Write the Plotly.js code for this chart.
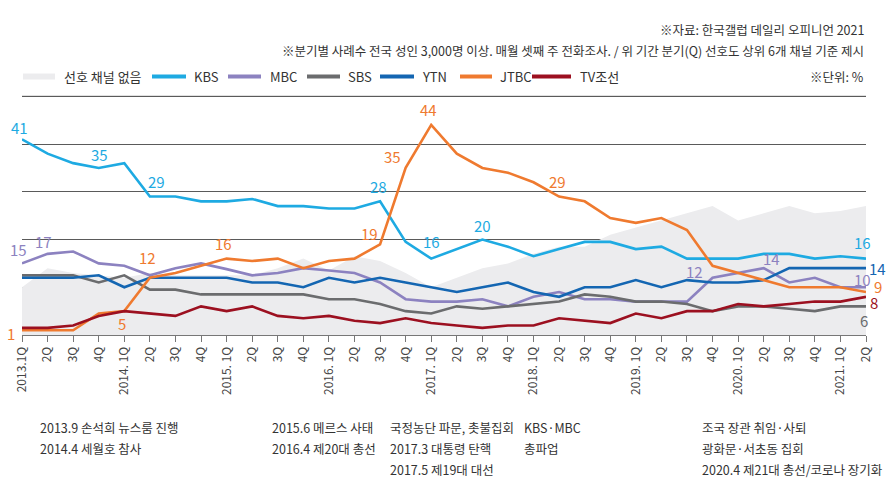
<!DOCTYPE html>
<html>
<head>
<meta charset="utf-8">
<script src="https://cdn.plot.ly/plotly-3.0.1.min.js"></script>
<style>
  html, body { margin: 0; padding: 0; background: #fff; }
  #chart { width: 895px; height: 487px; }
</style>
</head>
<body>
<div id="chart"></div>
<script>
// quarterly channel preference (%), 2013.1Q - 2021.2Q
var quarters = ["2013.1Q","2013.2Q","2013.3Q","2013.4Q","2014.1Q","2014.2Q","2014.3Q","2014.4Q",
  "2015.1Q","2015.2Q","2015.3Q","2015.4Q","2016.1Q","2016.2Q","2016.3Q","2016.4Q",
  "2017.1Q","2017.2Q","2017.3Q","2017.4Q","2018.1Q","2018.2Q","2018.3Q","2018.4Q",
  "2019.1Q","2019.2Q","2019.3Q","2019.4Q","2020.1Q","2020.2Q","2020.3Q","2020.4Q",
  "2021.1Q","2021.2Q"];
var tickLabels = ["2013.1Q","2Q","3Q","4Q","2014. 1Q","2Q","3Q","4Q",
  "2015. 1Q","2Q","3Q","4Q","2016. 1Q","2Q","3Q","4Q",
  "2017. 1Q","2Q","3Q","4Q","2018. 1Q","2Q","3Q","4Q",
  "2019. 1Q","2Q","3Q","4Q","2020. 1Q","2Q","3Q","4Q",
  "2021. 1Q","2Q"];
var gridValues = [10, 20, 30, 40, 50];

var noPref = [10,14,13,12.5,12,13,12.5,12.5,12.5,12.5,14,16,13.5,16.5,15.5,13,10,12,14,15,17,18.5,18.5,21,22.5,24,25.5,27,24,25.5,27,25.5,26,27];
var kbs  = [41,38,36,35,36,29,29,28,28,28.5,27,27,26.5,26.5,28,19.5,16,18,20,18.5,16.5,18,19.5,19.5,18,18.5,16,16,16,17,17,16,16.5,16];
var mbc  = [15,17,17.5,15,14.5,12.5,14,15,13.8,12.5,13,14,13.5,13,11,7.5,7,7,7.5,6,8,9,7.5,7.5,7,7,7,12,13,14,11,12,10,10];
var sbs  = [12.5,12.5,12.5,11,12.5,9.5,9.5,8.5,8.5,8.5,8.5,8.5,7.5,7.5,6.5,5,4.5,6,5.5,6,6.5,7,8.5,8,7,7,6.5,5,6,6,5.5,5,6,6];
var ytn  = [12,12,12,12.5,10,12,12,12,12,11,11,10,12,11,12,11,10,9,10,11,9,8,10,10,11.5,10,11.5,11,11,11.5,14,14,14,14];
var jtbc = [1,1,1,4.5,5,12,13,14.5,16,15.5,16,14,15.5,16,19,35,44,38,35,34,32,29,28,24.5,23.5,24.5,22,14.5,13,11.5,10,10,10,9];
var tvc  = [1.5,1.5,2,4,5,4.5,4,6,5,6,4,3.5,4,3,2.5,3.5,2.5,2,1.5,2,2,3.5,3,2.5,4.5,3.5,5,5,6.5,6,6.5,7,7,8];

var FONT = "Noto Sans CJK KR, Noto Sans, sans-serif";
var GRID = "#5a5a5a";
var AREA = "#ececee";

var series = [
  {name: "KBS",  y: kbs,  color: "#1eaae2"},
  {name: "MBC",  y: mbc,  color: "#8c82c0"},
  {name: "SBS",  y: sbs,  color: "#6b6c6e"},
  {name: "YTN",  y: ytn,  color: "#1466b2"},
  {name: "JTBC", y: jtbc, color: "#ef7a2f"},
  {name: "TV조선", y: tvc, color: "#9c1020"}
];

var traces = [{
  type: "scatter", mode: "lines", name: "선호 채널 없음",
  x: quarters, y: noPref, fill: "tozeroy",
  fillcolor: AREA, line: {width: 0, color: AREA},
  hoverinfo: "skip"
}];
series.forEach(function (s) {
  traces.push({
    type: "scatter", mode: "lines", name: s.name,
    x: quarters, y: s.y,
    line: {color: s.color, width: 2.6}
  });
});

// value callouts: series index, quarter index, offset in px
var callouts = [
  [0, 0, -3, 12], [0, 3, 1, 13], [0, 5, 7, 15], [0, 14, -2, 15], [0, 16, 0, 17], [0, 18, 0, 14], [0, 33, -4, 16],
  [1, 0, -4, 14], [1, 1, -4, 12], [1, 27, -18, 6], [1, 29, 8, 10], [1, 33, -4, 8],
  [2, 33, -2, -14],
  [3, 33, 11, 0],
  [4, 0, -11, -3], [4, 4, -2, -12], [4, 5, -2, 20], [4, 8, -3, 15], [4, 14, -11, 11], [4, 15, -13, 11],
  [4, 16, -3, 15], [4, 21, -2, 15], [4, 33, 12, 6],
  [5, 33, 8, -6]
];
var annotations = callouts.map(function (c) {
  var s = series[c[0]];
  return {
    x: quarters[c[1]], y: s.y[c[1]], xref: "x", yref: "y",
    text: String(s.y[c[1]]), showarrow: false,
    xshift: c[2], yshift: c[3],
    font: {family: FONT, size: 15, color: s.color}
  };
});

// plot box: x 22..866 px, value 0 at 335 px, 53 at the top margin
var TOP = 81.5, BOTTOM = 335, YMAX = 53;
function px(x) { return (x - 22) / 844; }
function py(y) { return (BOTTOM - y) / (BOTTOM - TOP); }
var notes = [
  ["※자료: 한국갤럽 데일리 오피니언 2021", 866, 29, "right"],
  ["※분기별 사례수 전국 성인 3,000명 이상. 매월 셋째 주 전화조사. / 위 기간 분기(Q) 선호도 상위 6개 채널 기준 제시", 866, 50, "right"],
  ["※단위: %", 866, 76, "right"],
  ["2013.9 손석희 뉴스룸 진행", 38, 428, "left"],
  ["2014.4 세월호 참사", 38, 449, "left"],
  ["2015.6 메르스 사태", 270, 428, "left"],
  ["2016.4 제20대 총선", 270, 449, "left"],
  ["국정농단 파문, 촛불집회", 388, 428, "left"],
  ["2017.3 대통령 탄핵", 388, 449, "left"],
  ["2017.5 제19대 대선", 388, 470, "left"],
  ["KBS·MBC", 522, 428, "left"],
  ["총파업", 522, 449, "left"],
  ["조국 장관 취임·사퇴", 700, 428, "left"],
  ["광화문·서초동 집회", 700, 449, "left"],
  ["2020.4 제21대 총선/코로나 장기화", 700, 470, "left"]
];
notes.forEach(function (n) {
  annotations.push({
    text: n[0], xref: "paper", yref: "paper", x: px(n[1]), y: py(n[2]),
    xanchor: n[3], yanchor: "middle", showarrow: false,
    font: {family: FONT, size: 12.5, color: "#333"}
  });
});

var shapes = [];

// legend row drawn by hand: swatch start, swatch end, text start (px)
var legendSlots = [[23, 55, 62], [152, 186, 192], [228, 261, 268], [307, 340, 346], [380, 414, 420], [460, 492, 498], [532, 571, 578]];
var legendItems = [{name: traces[0].name, color: AREA, width: 6}].concat(
  series.map(function (s) { return {name: s.name, color: s.color, width: 4}; }));
var LEGEND_Y = py(76);
legendItems.forEach(function (item, i) {
  var slot = legendSlots[i];
  shapes.push({
    type: "line", xref: "paper", yref: "paper",
    x0: px(slot[0]), x1: px(slot[1]), y0: LEGEND_Y, y1: LEGEND_Y,
    line: {color: item.color, width: item.width}
  });
  annotations.push({
    text: item.name, xref: "paper", yref: "paper", x: px(slot[2]), y: LEGEND_Y,
    xanchor: "left", yanchor: "middle", showarrow: false,
    font: {family: FONT, size: 13, color: "#333"}
  });
});

// top grid line (50) in paper coords as well, in case the axis drops it
var topGridY = py(BOTTOM - gridValues[gridValues.length - 1] * (BOTTOM - TOP) / YMAX);
shapes.push({
  type: "line", layer: "below", xref: "paper", x0: 0, x1: 1,
  yref: "paper", y0: topGridY, y1: topGridY,
  line: {color: GRID, width: 1}
});

var layout = {
  width: 895, height: 487,
  margin: {l: 22, r: 29, t: TOP, b: 487 - BOTTOM},
  paper_bgcolor: "#fff", plot_bgcolor: "rgba(0,0,0,0)",
  font: {family: FONT, size: 12, color: "#333"},
  showlegend: false,
  xaxis: {
    type: "category", range: [0, 33],
    tickvals: quarters, ticktext: tickLabels, tickangle: -90,
    showgrid: false, zeroline: false,
    showline: true, linecolor: "#777", linewidth: 1,
    ticks: "outside", ticklen: 6, tickcolor: "#777",
    tickfont: {family: FONT, size: 12, color: "#444"}
  },
  yaxis: {
    range: [0, YMAX], tickmode: "array", tickvals: gridValues, showticklabels: false,
    showgrid: true, gridcolor: GRID, gridwidth: 1,
    zeroline: false, showline: false
  },
  shapes: shapes,
  annotations: annotations
};

Plotly.newPlot("chart", traces, layout, {displayModeBar: false, staticPlot: true});
</script>
</body>
</html>
